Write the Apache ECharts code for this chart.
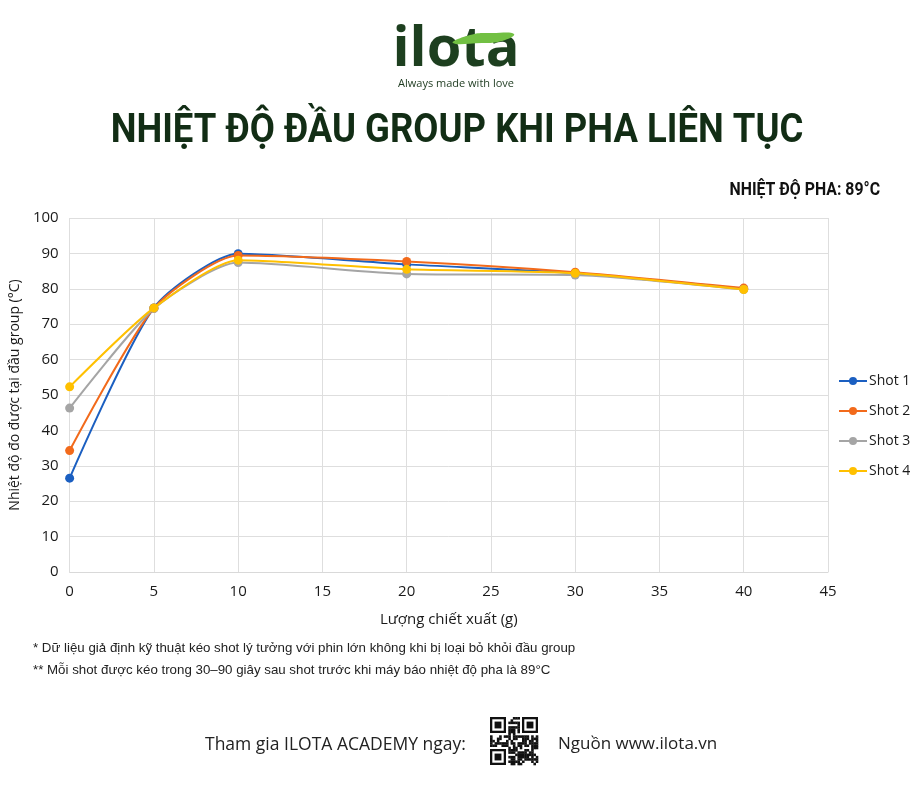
<!DOCTYPE html>
<html>
<head>
<meta charset="utf-8">
<script src="https://cdn.jsdelivr.net/npm/echarts@6/dist/echarts.min.js"></script>
<style>
  html, body { margin: 0; padding: 0; background: #fff; }
  #main { width: 915px; height: 800px; }
</style>
</head>
<body>
<div id="main"></div>
<script>
// lượng chiết xuất (g)
var grams = [0, 5, 10, 20, 30, 40];
// nhiệt độ đo được (°C)
var shot1 = [26.5, 74.6, 89.9, 86.9, 84.4, 80.0];
var shot2 = [34.3, 74.5, 89.4, 87.7, 84.7, 80.2];
var shot3 = [46.3, 74.4, 87.4, 84.2, 83.9, 79.8];
var shot4 = [52.3, 74.6, 88.1, 85.5, 84.4, 79.8];
var shotNames = ['Shot 1', 'Shot 2', 'Shot 3', 'Shot 4'];
var shotColors = ['#1b5fc1', '#f26a1b', '#a5a5a5', '#ffc000'];

var myChart = echarts.init(document.getElementById('main'));

function pairs(ys) {
  return grams.map(function (g, i) { return [g, ys[i]]; });
}

// QR code giả (chỉ để trang trí)
function qrGraphic(x0, y0, size) {
  var n = 21, m = size / n, kids = [];
  var seed = 'ILOTAACADEMYwwwilotavn2024coffee';
  function finder(cx, cy) {
    kids.push({ type: 'rect', shape: { x: x0 + cx * m, y: y0 + cy * m, width: 7 * m, height: 7 * m }, style: { fill: '#111' } });
    kids.push({ type: 'rect', shape: { x: x0 + (cx + 1) * m, y: y0 + (cy + 1) * m, width: 5 * m, height: 5 * m }, style: { fill: '#fff' } });
    kids.push({ type: 'rect', shape: { x: x0 + (cx + 2) * m, y: y0 + (cy + 2) * m, width: 3 * m, height: 3 * m }, style: { fill: '#111' } });
  }
  for (var r = 0; r < n; r++) {
    for (var c = 0; c < n; c++) {
      var inF = (r < 8 && c < 8) || (r < 8 && c > 12) || (r > 12 && c < 8);
      if (inF) continue;
      var k = seed.charCodeAt((r * 7 + c * 3) % seed.length) + r * c + r + 2 * c;
      if (k % 3 !== 0) {
        kids.push({ type: 'rect', shape: { x: x0 + c * m, y: y0 + r * m, width: m + 0.3, height: m + 0.3 }, style: { fill: '#111' } });
      }
    }
  }
  finder(0, 0); finder(14, 0); finder(0, 14);
  return { type: 'group', children: kids };
}

var series = [shot1, shot2, shot3, shot4].map(function (ys, i) {
  return {
    name: shotNames[i],
    type: 'line',
    data: pairs(ys),
    smooth: 0.22,
    symbol: 'circle',
    symbolSize: 9,
    showSymbol: true,
    lineStyle: { width: 2, color: shotColors[i] },
    itemStyle: { color: shotColors[i] },
    z: 2 + i
  };
});

myChart.setOption({
  backgroundColor: '#fff',
  animation: false,
  textStyle: { fontFamily: 'Open Sans, Noto Sans, sans-serif' },
  grid: { left: 69, right: 87, top: 218, bottom: 228 },
  legend: {
    orient: 'vertical',
    left: 833,
    top: 369,
    itemWidth: 28,
    itemHeight: 10,
    itemGap: 16,
    data: shotNames,
    textStyle: { fontSize: 14, color: '#1a1a1a', fontFamily: 'Open Sans, sans-serif', padding: [0, 0, 0, -3] }
  },
  xAxis: {
    type: 'value',
    min: 0,
    max: 45,
    interval: 5,
    name: 'Lượng chiết xuất (g)',
    nameLocation: 'middle',
    nameGap: 40,
    nameTextStyle: { fontSize: 15, color: '#1a1a1a' },
    axisLine: { show: true, lineStyle: { color: '#d9d9d9' } },
    axisTick: { show: false },
    axisLabel: { fontSize: 15, color: '#1a1a1a', margin: 12 },
    splitLine: { show: true, lineStyle: { color: '#dedede' } }
  },
  yAxis: {
    type: 'value',
    min: 0,
    max: 100,
    interval: 10,
    name: 'Nhiệt độ đo được tại đầu group (°C)',
    nameLocation: 'middle',
    nameGap: 43,
    nameTextStyle: { fontSize: 14, color: '#1a1a1a' },
    axisLine: { show: false },
    axisTick: { show: false },
    axisLabel: { fontSize: 15, color: '#1a1a1a', margin: 11 },
    splitLine: { show: true, lineStyle: { color: '#dedede' } }
  },
  series: series,
  graphic: [
    // logo
    {
      type: 'text', x: 456, y: 50,
      style: { text: 'ilota', font: 'bold 56px "Open Sans", sans-serif', fill: '#1d3f1f', align: 'center', verticalAlign: 'middle' }
    },
    {
      type: 'polygon',
      shape: { points: [[453, 43], [470, 35], [492, 33], [514, 34], [502, 41], [482, 43]], smooth: 0.5 },
      style: { fill: '#72c043' }
    },
    {
      type: 'text', x: 456, y: 84,
      style: { text: 'Always made with love', font: '11px "Open Sans", sans-serif', fill: '#1d3a1f', align: 'center', verticalAlign: 'middle' }
    },
    // tiêu đề
    {
      type: 'text', x: 457, y: 132, scaleX: 0.89,
      style: { text: 'NHIỆT ĐỘ ĐẦU GROUP KHI PHA LIÊN TỤC', font: 'bold 41px Roboto, sans-serif', fill: '#122d15', align: 'center', verticalAlign: 'middle' }
    },
    {
      type: 'text', x: 880, y: 190, scaleX: 0.88,
      style: { text: 'NHIỆT ĐỘ PHA: 89°C', font: 'bold 18px Roboto, sans-serif', fill: '#111', align: 'right', verticalAlign: 'middle' }
    },
    // chú thích
    {
      type: 'text', left: 33, top: 642,
      style: { text: '* Dữ liệu giả định kỹ thuật kéo shot lý tưởng với phin lớn không khi bị loại bỏ khỏi đầu group', font: '13.3px "Liberation Sans", Arial, sans-serif', fill: '#222' }
    },
    {
      type: 'text', left: 33, top: 664,
      style: { text: '** Mỗi shot được kéo trong 30–90 giây sau shot trước khi máy báo nhiệt độ pha là 89°C', font: '13.3px "Liberation Sans", Arial, sans-serif', fill: '#222' }
    },
    // chân trang
    {
      type: 'text', left: 205, top: 736,
      style: { text: 'Tham gia ILOTA ACADEMY ngay:', font: '17.5px "Open Sans", sans-serif', fill: '#222' }
    },
    qrGraphic(490, 717, 48),
    {
      type: 'text', left: 558, top: 736,
      style: { text: 'Nguồn www.ilota.vn', font: '17px "Open Sans", sans-serif', fill: '#222' }
    }
  ]
});
</script>
</body>
</html>
